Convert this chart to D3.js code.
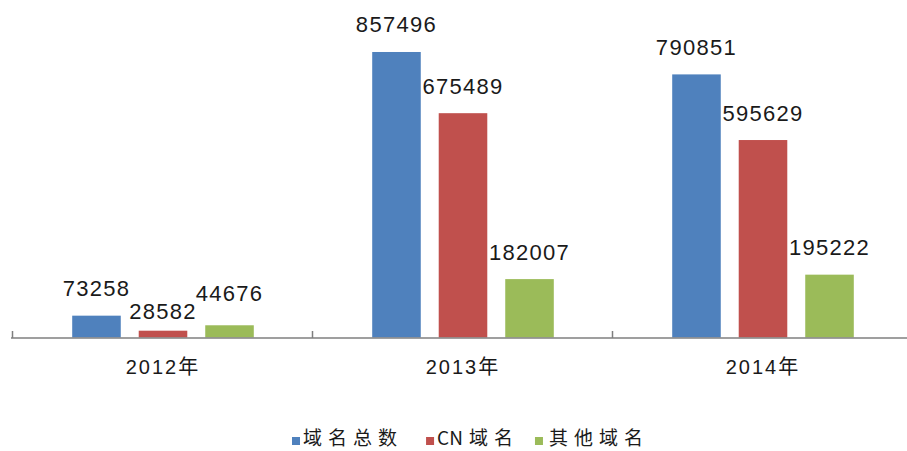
<!DOCTYPE html>
<html>
  <head>
    <meta charset="utf-8">
    <title>域名数量</title>
    <style>
    body {
        margin: 0px;
        overflow: hidden;
        background: #fff;
    }
    .value-label {
        font-family: "Liberation Sans", Arial, sans-serif;
        font-size: 22px;
        letter-spacing: 1.3px;
        fill: #1a1a1a;
    }
    .tick text {
        font-family: "Liberation Sans", "Noto Sans CJK SC", sans-serif;
        font-size: 20px;
        letter-spacing: 2px;
        fill: #1a1a1a;
    }
    .legend text {
        font-family: "Noto Sans CJK SC", "Liberation Sans", sans-serif;
        font-size: 19px;
        fill: #1a1a1a;
    }
    </style>
    <script src="https://d3js.org/d3.v7.min.js"></script>
  </head>
  <body>
    <svg width="907" height="451"></svg>
    <script>
        // data
        const years = ['2012年', '2013年', '2014年'];
        const seriesNames = ['域名总数', 'CN域名', '其他域名'];
        const totalDomains = [73258, 857496, 790851];
        const cnDomains = [28582, 675489, 595629];
        const otherDomains = [44676, 182007, 195222];

        const colors = ['#4F81BD', '#C0504D', '#9BBB59'];

        const svg = d3.select('svg');
        const width = +svg.attr('width');
        const height = +svg.attr('height');

        const axisY = 338;

        const seriesValues = [totalDomains, cnDomains, otherDomains];
        const data = [];
        years.forEach((year, i) => {
            seriesNames.forEach((name, j) => {
                data.push({ year: year, series: name, value: seriesValues[j][i] });
            });
        });

        const x0 = d3.scaleBand()
            .domain(years)
            .range([13, 913]);

        const x1 = d3.scaleBand()
            .domain(seriesNames)
            .range([0, x0.bandwidth()])
            .paddingInner(0.27)
            .paddingOuter(0.89);

        const y = d3.scaleLinear()
            .domain([0, 900000])
            .range([340.3, 37.7]);

        const color = d3.scaleOrdinal()
            .domain(seriesNames)
            .range(colors);

        // manual label nudges (the 2012 labels were moved apart in the original)
        const labelGap = 19.5;
        const labelNudge = { '2012年|CN域名': 7.5, '2012年|其他域名': -4.5 };

        const g = svg.append('g');

        g.selectAll('rect.bar').data(data)
            .enter().append('rect')
            .attr('class', 'bar')
            .attr('x', d => x0(d.year) + x1(d.series))
            .attr('y', d => y(d.value))
            .attr('width', x1.bandwidth())
            .attr('height', d => Math.max(0, axisY - 0.5 - y(d.value)))
            .attr('fill', d => color(d.series));

        g.selectAll('text.value-label').data(data)
            .enter().append('text')
            .attr('class', 'value-label')
            .attr('x', d => x0(d.year) + x1(d.series) + x1.bandwidth() / 2)
            .attr('y', d => y(d.value) - labelGap + (labelNudge[d.year + '|' + d.series] || 0))
            .attr('text-anchor', 'middle')
            .text(d => d.value);

        // category axis
        const xAxis = d3.axisBottom(x0)
            .tickSize(0)
            .tickPadding(22);

        const xAxisG = svg.append('g')
            .attr('transform', `translate(0,${axisY})`)
            .call(xAxis);
        xAxisG.select('.domain').remove();
        xAxisG.selectAll('.tick text').attr('font-family', null).attr('font-size', null);

        xAxisG.append('line')
            .attr('x1', 11)
            .attr('x2', width)
            .attr('y1', 0)
            .attr('y2', 0)
            .attr('stroke', '#7f7f7f')
            .attr('stroke-width', 1.5);

        // tick marks at the group boundaries
        const boundaries = years.map(d => x0(d)).concat([x0.range()[1]]);
        xAxisG.selectAll('line.sep').data(boundaries)
            .enter().append('line')
            .attr('class', 'sep')
            .attr('x1', d => d - 0.5)
            .attr('x2', d => d - 0.5)
            .attr('y1', -7)
            .attr('y2', 0)
            .attr('stroke', '#7f7f7f')
            .attr('stroke-width', 1.5);

        // legend: CJK characters are spaced out, latin letters are not
        const legend = svg.append('g').attr('class', 'legend');
        const items = legend.selectAll('g').data(seriesNames)
            .enter().append('g');
        items.append('rect')
            .attr('width', 8)
            .attr('height', 8)
            .attr('y', -4)
            .attr('fill', d => color(d));
        const labels = items.append('text')
            .attr('x', (d, i) => i === 2 ? 14 : 11)
            .attr('y', 4);
        labels.each(function (d) {
            const t = d3.select(this);
            const chars = Array.from(d);
            chars.forEach((c, k) => {
                const cjk = /[\u4e00-\u9fff]/.test(c);
                const prevCjk = k > 0 && /[\u4e00-\u9fff]/.test(chars[k - 1]);
                t.append('tspan')
                    .attr('dx', k > 0 && (cjk || prevCjk) ? 6 : 0)
                    .text(c);
            });
        });

        let cursor = 0;
        const gaps = [29, 22];
        items.each(function (d, i) {
            d3.select(this).attr('transform', `translate(${cursor},0)`);
            const w = this.getBBox().width;
            cursor += w + (gaps[i] || 0);
        });
        legend.attr('transform', `translate(292,441)`);
    </script>
  </body>
</html>
